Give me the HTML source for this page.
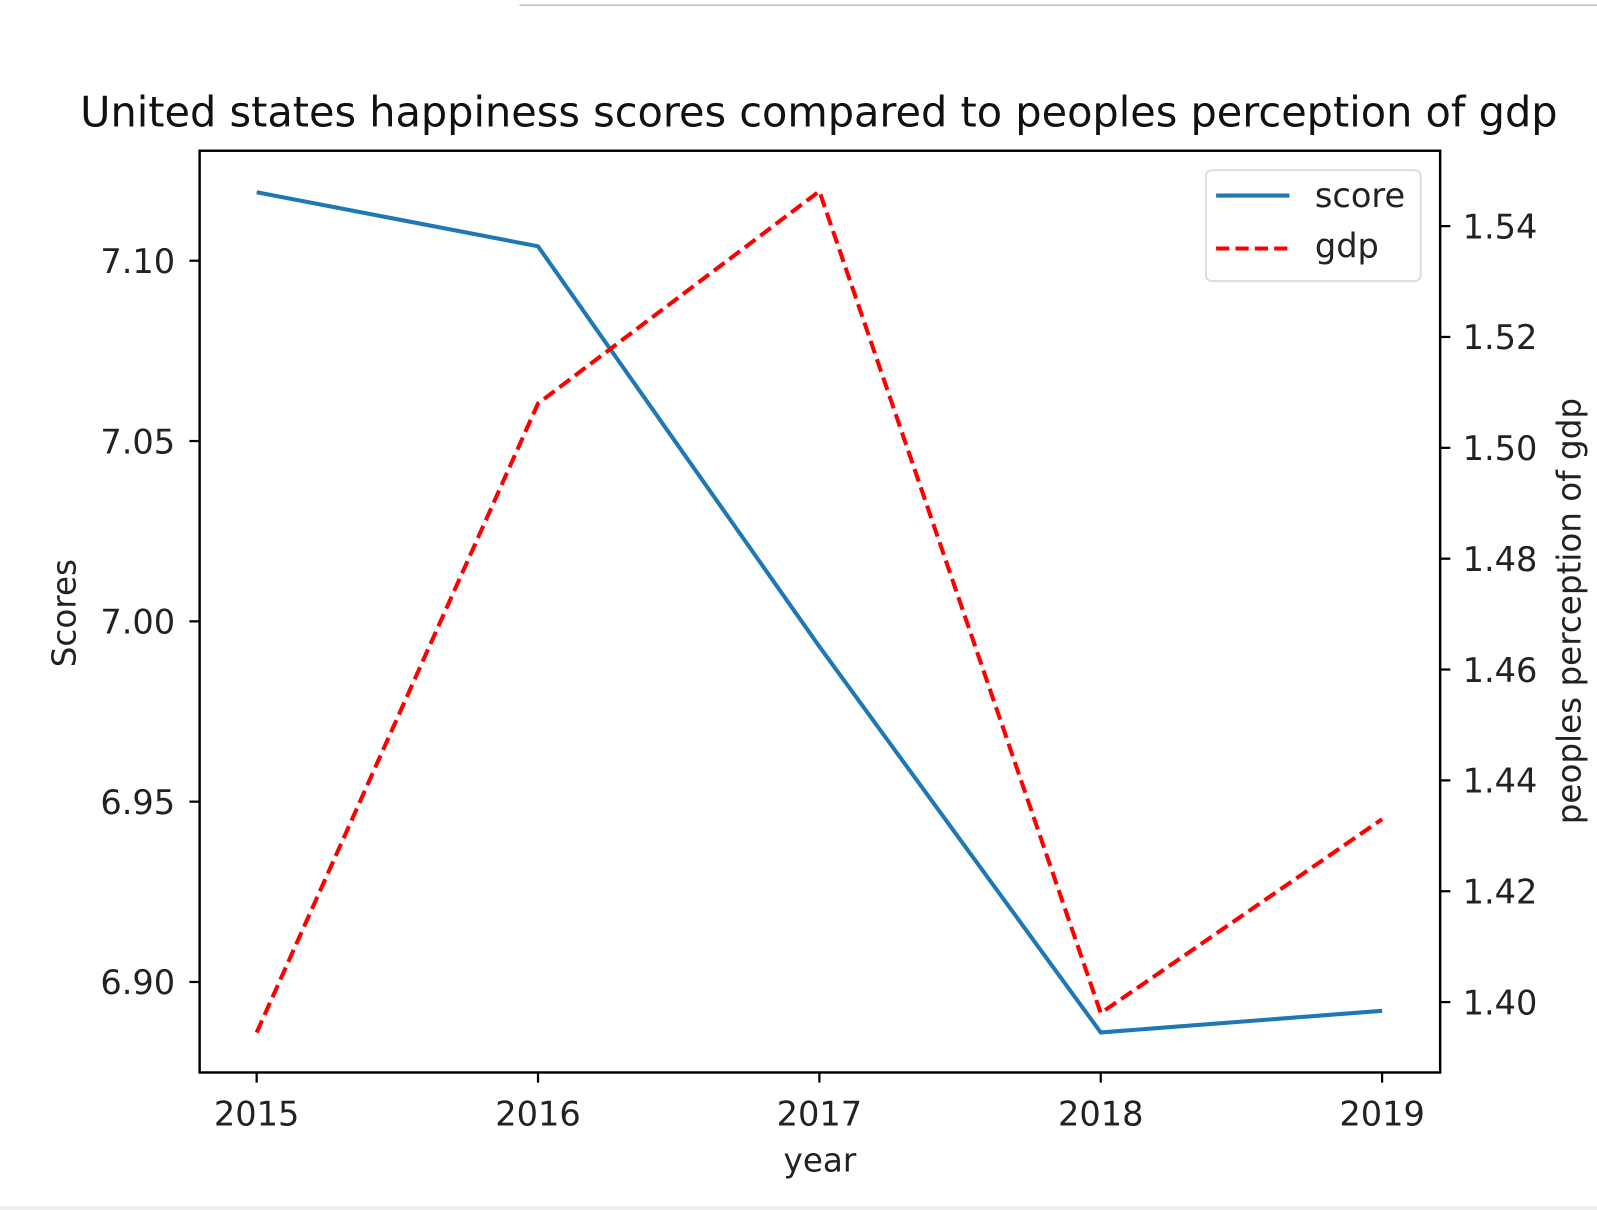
<!DOCTYPE html>
<html><head><meta charset="utf-8"><style>
html,body{margin:0;padding:0;background:#fff;width:1597px;height:1210px;overflow:hidden}
svg{display:block;font-family:"DejaVu Sans","Liberation Sans",sans-serif}
</style></head><body>
<svg id="chart" width="1597" height="1210">
<g transform="scale(1.0185)">
<line x1="510" y1="5" x2="1597" y2="5" stroke="#ccc" stroke-width="2"/>
<rect x="0" y="1184" width="1597" height="10" fill="#eee"/>
<text x="804" y="124" font-size="40.7" text-anchor="middle" fill="#111">United states happiness scores compared to peoples perception of gdp</text>
<g id="marks"></g>
<rect x="196" y="148" width="1218" height="905" fill="none" stroke="#000" stroke-width="2.4"/>
<text x="805" y="1150" font-size="32" text-anchor="middle" fill="#222">year</text>
<text transform="translate(74,602) rotate(-90)" font-size="32" text-anchor="middle" fill="#222">Scores</text>
<text transform="translate(1552,600) rotate(-90)" font-size="32" text-anchor="middle" fill="#222">peoples perception of gdp</text>
<g>
<rect x="1184" y="167" width="211" height="109" rx="6" fill="#fff" stroke="#ddd" stroke-width="2"/>
<line x1="1194" y1="192" x2="1266" y2="192" stroke="#1f77b4" stroke-width="4"/>
<text x="1291" y="203" font-size="33" fill="#222">score</text>
<line x1="1194" y1="244" x2="1266" y2="244" stroke="#f00" stroke-width="4" stroke-dasharray="13,6"/>
<text x="1291" y="253" font-size="33" fill="#222">gdp</text>
</g>
</g>
</svg>
<script>
const years=[2015,2016,2017,2018,2019];
const scores=[7.119,7.104,6.993,6.886,6.892];
const gdp=[1.3945,1.508,1.5463,1.398,1.433];
const leftTicks=[6.90,6.95,7.00,7.05,7.10];
const rightTicks=[1.40,1.42,1.44,1.46,1.48,1.50,1.52,1.54];
const X0=196,X1=1414,Y0=148,Y1=1053;
const xs=y=>252+(y-2015)*276.25;
const yl=v=>Y1-(v-6.8749)/(7.1305-6.8749)*(Y1-Y0);
const yr=v=>Y1-(v-1.3873)/(1.5536-1.3873)*(Y1-Y0);
const NS="http://www.w3.org/2000/svg";
const g=document.getElementById('marks');
function mk(t,a){const e=document.createElementNS(NS,t);for(const k in a)e.setAttribute(k,a[k]);g.appendChild(e);return e;}
years.forEach(y=>{
 const t=mk('line',{x1:xs(y),x2:xs(y),y1:Y1,y2:Y1+10,stroke:'#000','stroke-width':2.2});
 
 
 const l=mk('text',{x:xs(y),y:Y1+52,'font-size':33,'text-anchor':'middle',fill:'#222'});l.textContent=y;
 
 
});
leftTicks.forEach(v=>{
 const t=mk('line',{x1:X0-10,x2:X0,y1:yl(v),y2:yl(v),stroke:'#000','stroke-width':2.2});
 
 
 const l=mk('text',{x:X0-24,y:yl(v)+12,'font-size':33,'text-anchor':'end',fill:'#222'});l.textContent=v.toFixed(2);
 
 
});
rightTicks.forEach(v=>{
 const t=mk('line',{x1:X1,x2:X1+10,y1:yr(v),y2:yr(v),stroke:'#000','stroke-width':2.2});
 
 
 const l=mk('text',{x:X1+22,y:yr(v)+12,'font-size':33,fill:'#222'});l.textContent=v.toFixed(2);
 
 
});
const s=mk('polyline',{points:years.map((y,i)=>xs(y)+','+yl(scores[i])).join(' '),fill:'none',stroke:'#1f77b4','stroke-width':4});


const d=mk('polyline',{points:years.map((y,i)=>xs(y)+','+yr(gdp[i])).join(' '),fill:'none',stroke:'#f00','stroke-width':4,'stroke-dasharray':'13,6'});


</script>
</body></html>
